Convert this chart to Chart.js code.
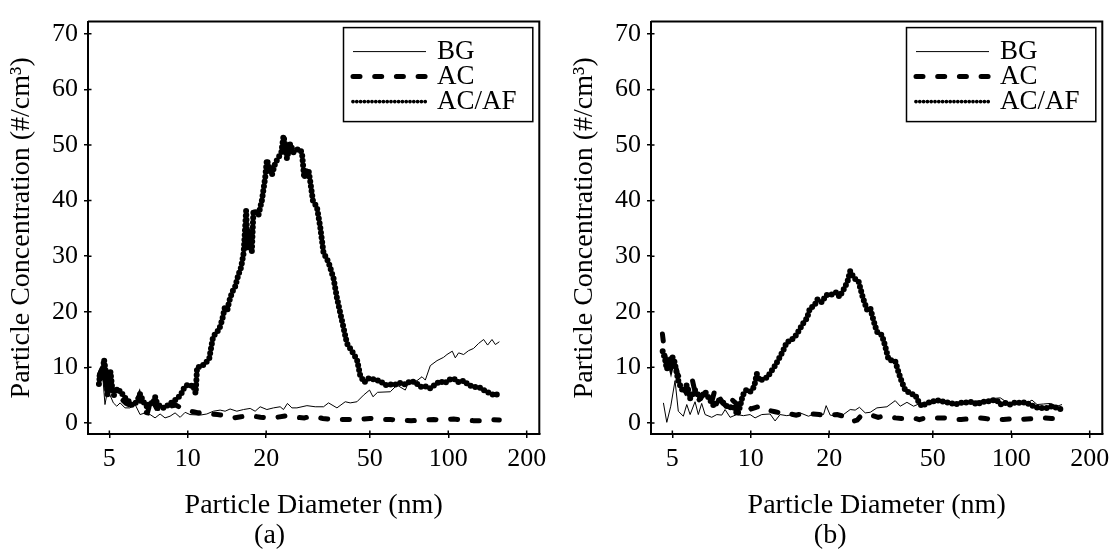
<!DOCTYPE html>
<html>
<head>
<meta charset="utf-8">
<script src="https://cdn.jsdelivr.net/npm/chart.js@4.4.0/dist/chart.umd.min.js"></script>
<style>
  html, body { margin: 0; padding: 0; background: #fff; }
  body { width: 1117px; height: 554px; position: relative; overflow: hidden; }
  .panel { position: absolute; top: 0; height: 554px; }
</style>
</head>
<body>
<div class="panel" style="left:0;width:558px"><canvas id="chartA" width="558" height="554"></canvas></div>
<div class="panel" style="left:558px;width:559px"><canvas id="chartB" width="559" height="554"></canvas></div>
<script>
// axis ticks
const xTickValues = [5, 10, 20, 50, 100, 200];
const yTickValues = [0, 10, 20, 30, 40, 50, 60, 70];
const seriesLabels = ['BG', 'AC', 'AC/AF'];

// panel (a) -- [diameter nm, concentration #/cm3]
const bgA = [[4.60,9.1],[4.72,8.2],[4.81,3.3],[4.91,5.6],[5.03,5.0],[5.18,3.6],[5.34,3.0],[5.50,3.6],[5.74,2.7],[6.00,2.7],[6.28,3.3],[6.56,1.5],[6.86,1.8],[7.17,1.5],[7.49,0.9],[7.83,1.6],[8.18,0.9],[8.55,1.2],[8.94,1.8],[9.35,1.0],[9.77,1.9],[10.2,1.5],[11.15,1.4],[11.83,1.6],[12.54,2.1],[13.31,2.3],[13.91,2.1],[14.54,2.5],[15.43,2.1],[16.36,2.4],[17.36,2.6],[18.14,2.1],[18.96,2.9],[20.12,2.4],[21.33,2.7],[22.63,2.9],[23.31,2.4],[24.14,3.5],[25.10,2.7],[26.24,2.7],[28.67,3.1],[30.85,2.9],[33.20,2.9],[34.70,3.6],[37.38,2.7],[40.22,3.8],[42.04,3.6],[44.61,3.8],[47.30,5.0],[49.87,5.9],[51.40,4.7],[53.53,5.5],[59.90,5.6],[63.55,6.8],[68.39,5.9],[70.42,7.3],[75.85,7.6],[79.29,8.3],[81.63,7.7],[85.32,10.3],[90.54,11.2],[95.99,11.8],[98.88,12.3],[103.6,12.9],[106.4,11.7],[109.6,12.6],[114.5,12.3],[119.7,13.0],[125.1,13.4],[130.8,14.3],[136.7,15.0],[141.6,14.0],[147.2,15.0],[151.6,14.1],[157.1,14.6]];
const acA = [[4.57,8.5],[4.70,10.0],[4.85,7.0],[5.00,8.5],[5.15,5.5],[5.30,5.0],[5.50,4.5],[5.80,3.5],[6.10,3.0],[6.30,3.4],[6.50,4.8],[6.70,2.0],[7.00,1.8],[7.25,4.4],[7.60,2.6],[7.90,2.5],[8.20,2.6],[8.60,3.0],[9.00,3.2],[9.50,2.6],[10.0,2.2],[10.5,2.0],[11.0,1.8],[11.5,1.9],[12.2,1.6],[13.0,1.5],[14.0,1.3],[15.0,0.9],[16.0,1.1],[17.0,1.3],[18.0,1.2],[19.0,1.0],[20.0,0.9],[22.0,1.0],[24.0,1.3],[26.0,1.0],[28.0,0.9],[30.0,1.2],[33.0,0.8],[36.0,0.6],[40.0,0.6],[45.0,0.6],[50.0,0.8],[55.0,0.6],[60.0,0.6],[66.0,0.5],[72.0,0.4],[80.0,0.5],[88.0,0.6],[96.0,0.5],[105,0.7],[115,0.5],[125,0.4],[135,0.4],[145,0.6],[157,0.5]];
const acafA = [[4.56,7.0],[4.62,9.3],[4.69,8.2],[4.77,11.4],[4.85,9.0],[4.92,5.0],[4.99,7.5],[5.05,9.2],[5.12,6.5],[5.21,5.0],[5.30,6.3],[5.40,5.5],[5.50,5.8],[5.64,5.0],[5.80,4.3],[5.95,3.8],[6.11,3.2],[6.28,3.5],[6.44,4.2],[6.56,5.2],[6.68,4.3],[6.86,3.2],[7.04,2.8],[7.17,3.8],[7.36,3.4],[7.49,4.7],[7.62,3.5],[7.83,3.0],[8.04,2.7],[8.26,2.9],[8.48,3.4],[8.71,3.7],[8.94,4.1],[9.18,4.5],[9.43,5.2],[9.68,6.3],[9.94,6.8],[10.2,6.6],[10.48,6.8],[10.72,5.3],[10.86,10.0],[11.15,10.1],[11.45,10.4],[11.76,10.9],[12.08,11.5],[12.29,13.5],[12.51,15.5],[12.85,16.2],[13.19,16.8],[13.55,18.5],[13.91,21.0],[14.16,20.1],[14.41,21.8],[14.80,23.5],[15.20,24.5],[15.61,26.5],[16.03,28.0],[16.39,30.6],[16.75,38.2],[16.98,31.5],[17.36,34.7],[17.62,30.9],[17.87,38.2],[18.30,37.8],[18.68,37.4],[19.25,40.0],[19.82,44.1],[20.12,47.3],[20.54,46.0],[21.03,44.6],[21.66,46.7],[22.30,47.8],[22.84,48.5],[23.31,51.6],[23.66,50.0],[24.02,47.6],[24.73,50.2],[25.46,48.7],[26.08,49.0],[26.61,49.3],[27.42,48.7],[27.99,44.1],[28.49,45.3],[29.07,45.5],[29.51,43.5],[30.23,40.0],[31.32,38.8],[32.24,35.3],[33.20,30.6],[34.70,28.9],[36.27,26.0],[37.38,22.5],[39.07,18.4],[40.84,14.3],[42.68,12.9],[44.61,11.4],[45.93,8.5],[47.59,7.3],[49.43,8.0],[52.45,7.8],[54.83,7.5],[57.30,6.8],[59.90,6.9],[62.60,6.9],[65.44,7.2],[68.39,6.9],[71.49,7.5],[74.72,7.3],[78.10,6.5],[81.63,6.6],[85.32,6.2],[89.18,6.9],[93.22,7.5],[96.57,7.1],[101.2,7.8],[105.5,7.9],[109.6,7.3],[114.5,7.6],[119.7,6.8],[125.1,6.5],[132.8,6.3],[138.8,5.7],[145.0,5.3],[151.6,4.9],[157.1,5.5]];

// panel (b)
const bgB = [[4.62,3.6],[4.76,0.1],[4.93,3.0],[5.12,7.6],[5.27,2.1],[5.51,1.2],[5.68,3.3],[5.85,1.5],[6.11,3.8],[6.29,1.5],[6.48,3.5],[6.68,1.5],[7.08,1.0],[7.41,1.5],[7.74,1.4],[7.97,2.4],[8.33,1.0],[8.84,1.5],[9.37,1.3],[9.94,1.5],[10.39,0.9],[11.02,1.5],[11.86,1.6],[12.40,0.35],[12.96,1.5],[13.75,1.3],[14.58,1.5],[15.47,1.8],[16.65,1.2],[17.94,1.8],[19.02,1.5],[19.47,3.1],[20.18,1.4],[21.41,1.2],[22.69,1.5],[24.08,2.4],[25.17,2.3],[26.14,2.8],[27.50,1.8],[28.74,1.9],[30.50,2.7],[33.32,2.9],[35.85,4.0],[37.48,3.0],[39.77,3.7],[42.16,3.0],[44.73,3.5],[47.46,3.3],[50.32,3.5],[53.39,4.0],[56.65,3.8],[60.05,3.4],[63.72,3.8],[67.62,3.8],[71.68,3.9],[76.06,4.0],[80.70,4.1],[85.55,4.4],[90.77,4.5],[96.32,3.7],[102.1,3.6],[108.3,3.8],[115.0,3.6],[120.1,4.1],[125.6,3.3],[133.1,3.4],[141.2,3.5],[149.9,3.0],[156.6,3.3]];
const acB = [[4.58,16.0],[4.62,14.5],[4.69,12.0],[4.77,10.5],[4.85,11.5],[4.94,10.0],[5.03,11.5],[5.12,11.0],[5.21,9.0],[5.35,8.0],[5.50,6.5],[5.64,5.5],[5.80,6.0],[5.95,8.0],[6.11,5.5],[6.28,4.0],[6.44,4.5],[6.62,5.5],[6.86,4.5],[7.10,4.0],[7.29,6.0],[7.49,5.0],[7.76,3.8],[8.04,3.0],[8.33,4.5],[8.63,3.8],[8.94,3.2],[9.26,3.3],[9.60,3.3],[10.03,2.5],[10.48,2.8],[10.86,3.0],[11.35,2.6],[11.86,2.2],[12.40,2.0],[12.96,1.8],[13.55,2.0],[14.16,1.6],[14.93,1.4],[15.61,1.6],[16.46,1.4],[17.36,1.6],[18.30,1.5],[19.30,1.3],[20.36,1.4],[21.46,1.5],[22.63,1.2],[23.87,1.0],[24.73,0.3],[25.62,0.5],[26.54,1.3],[27.50,1.6],[28.49,1.4],[29.51,1.3],[30.85,1.0],[32.24,1.2],[34.00,1.2],[35.85,0.9],[37.81,0.8],[39.87,0.8],[42.04,0.9],[44.34,0.6],[46.75,0.9],[49.30,1.0],[51.99,0.9],[54.83,0.9],[57.81,0.8],[60.96,0.6],[64.29,0.6],[67.79,0.7],[71.49,0.8],[75.39,0.9],[79.49,0.8],[83.83,0.6],[88.39,0.6],[93.22,0.6],[98.30,0.7],[103.6,0.5],[109.3,0.6],[115.2,0.7],[121.5,0.8],[128.2,0.8],[135.1,0.9],[142.5,0.8],[150.3,0.8],[157.1,0.8]];
const acafB = [[4.59,12.9],[4.69,11.4],[4.76,9.7],[4.87,10.8],[4.97,12.0],[5.07,11.4],[5.16,9.7],[5.27,7.6],[5.38,6.5],[5.51,5.6],[5.68,6.8],[5.85,4.4],[6.11,5.9],[6.39,4.4],[6.68,5.6],[6.98,4.1],[7.23,3.0],[7.51,4.1],[7.85,3.6],[8.21,2.7],[8.58,3.0],[8.89,1.5],[9.10,3.0],[9.32,5.0],[9.60,5.9],[9.94,5.6],[10.30,6.5],[10.55,8.8],[10.79,7.6],[11.18,7.9],[11.58,8.2],[12.04,9.4],[12.40,10.3],[12.77,11.4],[13.28,12.9],[13.75,14.5],[14.38,15.0],[14.93,15.8],[15.47,17.0],[15.93,18.0],[16.42,18.8],[16.90,20.7],[17.51,21.0],[18.03,22.2],[18.75,21.7],[19.47,23.0],[20.48,23.1],[21.28,23.5],[21.91,22.7],[22.84,24.2],[23.51,25.4],[24.08,27.3],[24.95,26.0],[25.91,25.5],[26.94,22.5],[27.91,20.4],[28.74,20.7],[29.60,18.4],[30.50,16.4],[31.87,15.8],[32.82,13.8],[33.79,11.4],[35.85,11.1],[36.92,9.1],[38.04,7.3],[39.17,5.9],[40.94,5.3],[42.79,5.0],[44.06,3.8],[45.41,3.0],[47.46,3.6],[49.61,3.8],[51.85,4.1],[54.97,3.8],[58.33,3.6],[60.96,3.3],[63.72,3.6],[67.62,3.7],[70.67,3.8],[73.87,3.3],[77.21,3.8],[80.70,3.8],[84.35,4.1],[88.17,4.0],[90.77,3.3],[94.88,3.6],[99.14,3.3],[103.6,3.7],[108.3,3.6],[113.2,3.7],[118.3,3.3],[123.7,2.8],[129.3,2.7],[137.2,2.7],[143.4,3.0],[149.9,2.7],[156.6,2.4]];

const FONT = "'Liberation Serif', 'Times New Roman', serif";

const lineStyles = [
    { borderWidth: 1, borderDash: [], borderCapStyle: 'butt' },
    { borderWidth: 5, borderDash: [7, 14.7], borderCapStyle: 'round' },
    { borderWidth: 6, borderDash: [0, 4.8], borderCapStyle: 'round' }
];
const legendStyles = [
    { width: 1, dash: [] },
    { width: 5, dash: [7, 14.7] },
    { width: 3.8, dash: [0, 3.8] }
];

// frame, inner tick stubs and the legend box
const frameLegend = {
    id: 'frameLegend',
    afterDraw(chart) {
        const { ctx, chartArea: a } = chart;
        ctx.save();
        ctx.strokeStyle = '#000';
        ctx.lineWidth = 2;
        ctx.beginPath();
        ctx.moveTo(a.left, a.top);
        ctx.lineTo(a.right, a.top);
        ctx.lineTo(a.right, a.bottom);
        ctx.stroke();

        ctx.lineWidth = 1.5;
        ctx.beginPath();
        chart.scales.y.ticks.forEach(t => {
            const y = chart.scales.y.getPixelForValue(t.value);
            ctx.moveTo(a.left, y);
            ctx.lineTo(a.left + 3.5, y);
        });
        chart.scales.x.ticks.forEach(t => {
            const x = chart.scales.x.getPixelForValue(t.value);
            ctx.moveTo(x, a.bottom);
            ctx.lineTo(x, a.bottom - 3.5);
        });
        ctx.stroke();

        // legend
        const boxL = a.left + 255.5, boxT = a.top + 6, boxR = a.right - 6.5, boxB = a.top + 100;
        ctx.fillStyle = '#fff';
        ctx.fillRect(boxL, boxT, boxR - boxL, boxB - boxT);
        ctx.lineWidth = 1.5;
        ctx.strokeRect(boxL, boxT, boxR - boxL, boxB - boxT);
        ctx.font = '27px ' + FONT;
        ctx.fillStyle = '#000';
        ctx.textBaseline = 'middle';
        ctx.textAlign = 'left';
        seriesLabels.forEach((label, i) => {
            const y = a.top + 30 + i * 25;
            const st = legendStyles[i];
            ctx.lineWidth = st.width;
            ctx.setLineDash(st.dash);
            ctx.lineCap = i === 0 ? 'butt' : 'round';
            ctx.beginPath();
            ctx.moveTo(a.left + 265, y);
            ctx.lineTo(a.left + 338, y);
            ctx.stroke();
            ctx.setLineDash([]);
            ctx.fillText(label, a.left + 349, y);
        });
        ctx.restore();
    }
};

function makePanel(canvasId, series, caption, yAxisWidth, rightPad, yTitlePad) {
    const ctx = document.getElementById(canvasId).getContext('2d');
    return new Chart(ctx, {
        type: 'line',
        data: {
            datasets: series.map((pts, i) => ({
                label: seriesLabels[i],
                data: pts.map(p => ({ x: p[0], y: p[1] })),
                borderColor: '#000',
                backgroundColor: '#000',
                pointRadius: 0,
                tension: 0,
                fill: false,
                ...lineStyles[i]
            }))
        },
        options: {
            responsive: false,
            animation: false,
            events: [],
            layout: { padding: { top: 9, right: rightPad, bottom: 4, left: 0 } },
            plugins: {
                legend: { display: false },
                tooltip: { enabled: false },
                title: {
                    display: true,
                    position: 'bottom',
                    text: caption,
                    color: '#000',
                    font: { family: FONT, size: 28, weight: 'normal', lineHeight: 1 },
                    padding: { top: 0, bottom: 0 }
                }
            },
            scales: {
                x: {
                    type: 'logarithmic',
                    min: 4.14,
                    max: 223.6,
                    afterBuildTicks: s => { s.ticks = xTickValues.map(v => ({ value: v })); },
                    afterFit: s => { s.height = 88; },
                    ticks: {
                        color: '#000',
                        font: { family: FONT, size: 26 },
                        padding: 6,
                        maxRotation: 0,
                        autoSkip: false,
                        callback: v => String(v)
                    },
                    grid: { drawOnChartArea: false, color: '#000', lineWidth: 1.5, tickLength: 4 },
                    border: { color: '#000', width: 2 },
                    title: {
                        display: true,
                        text: 'Particle Diameter (nm)',
                        color: '#000',
                        font: { family: FONT, size: 28 },
                        padding: { top: 0, bottom: 0 }
                    }
                },
                y: {
                    min: -2,
                    max: 72.2,
                    afterBuildTicks: s => { s.ticks = yTickValues.map(v => ({ value: v })); },
                    afterFit: s => { s.width = yAxisWidth; },
                    ticks: { color: '#000', font: { family: FONT, size: 26 }, padding: 6 },
                    grid: { drawOnChartArea: false, color: '#000', lineWidth: 1.5, tickLength: 4 },
                    border: { color: '#000', width: 2 },
                    title: {
                        display: true,
                        text: 'Particle Concentration (#/cm³)',
                        color: '#000',
                        font: { family: FONT, size: 28 },
                        padding: { top: yTitlePad, bottom: 0 }
                    }
                }
            }
        },
        plugins: [frameLegend]
    });
}

makePanel('chartA', [bgA, acA, acafA], '(a)', 88, 18.7, 5);
makePanel('chartB', [bgB, acB, acafB], '(b)', 93, 14.7, 10);
</script>
</body>
</html>
